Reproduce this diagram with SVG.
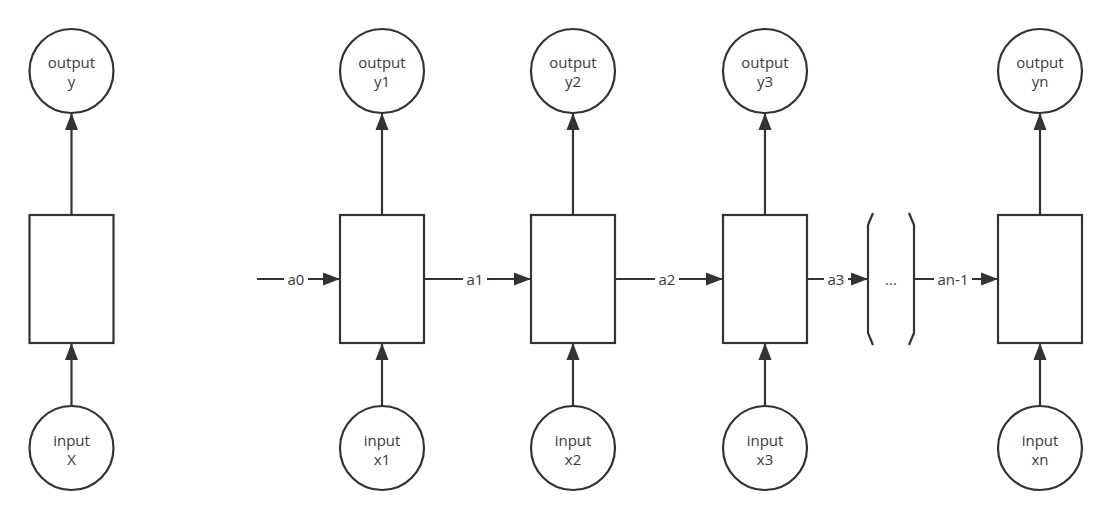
<svg xmlns="http://www.w3.org/2000/svg" width="1111" height="520" viewBox="0 0 1111 520">
<defs>
<marker id="ah" markerUnits="userSpaceOnUse" markerWidth="18" markerHeight="14" refX="17" refY="7" orient="auto">
<path d="M0,0.5 L17,7 L0,13.5 Z" fill="#333"/>
</marker>
<style>
.n{fill:#fff;stroke:#333;stroke-width:2.2}
.t{font-family:"Open Sans","Noto Sans",sans-serif;font-size:15px;fill:#3a3a3a;text-anchor:middle}
.c{stroke:#333;stroke-width:2.2;fill:none}
.a{marker-end:url(#ah)}
.lb{fill:#fff}
</style>
</defs>
<rect width="1111" height="520" fill="#fff"/>
<g id="connectors">
<line class="c a" x1="71.5" y1="406" x2="71.5" y2="343"/>
<line class="c a" x1="71.5" y1="215" x2="71.5" y2="113"/>
<line class="c a" x1="382" y1="406" x2="382" y2="343"/>
<line class="c a" x1="382" y1="215" x2="382" y2="113"/>
<line class="c a" x1="573" y1="406" x2="573" y2="343"/>
<line class="c a" x1="573" y1="215" x2="573" y2="113"/>
<line class="c a" x1="765" y1="406" x2="765" y2="343"/>
<line class="c a" x1="765" y1="215" x2="765" y2="113"/>
<line class="c a" x1="1040" y1="406" x2="1040" y2="343"/>
<line class="c a" x1="1040" y1="215" x2="1040" y2="113"/>
<line class="c a" x1="257" y1="279" x2="340" y2="279"/>
<line class="c a" x1="424" y1="279" x2="531" y2="279"/>
<line class="c a" x1="615" y1="279" x2="723" y2="279"/>
<line class="c a" x1="807" y1="279" x2="868" y2="279"/>
<line class="c a" x1="914" y1="279" x2="998" y2="279"/>
<rect class="lb" x="284" y="270" width="24" height="18"/>
<text class="t" x="296" y="284.5">a0</text>
<rect class="lb" x="463" y="270" width="24" height="18"/>
<text class="t" x="475" y="284.5">a1</text>
<rect class="lb" x="655" y="270" width="24" height="18"/>
<text class="t" x="667" y="284.5">a2</text>
<rect class="lb" x="824" y="270" width="24" height="18"/>
<text class="t" x="836" y="284.5">a3</text>
<rect class="lb" x="934" y="270" width="38" height="18"/>
<text class="t" x="953" y="284.5">an-1</text>
</g>
<g id="loop-brackets">
<path class="c" d="M873,213 L868,225 L868,333 L873,345"/>
<path class="c" d="M909,213 L914,225 L914,333 L909,345"/>
<text class="t" x="891" y="284.5">...</text>
</g>
<g id="out0"><circle class="n" cx="71.5" cy="71" r="42"/><text class="t" x="71.5" y="67.5">output</text><text class="t" x="71.5" y="86.5">y</text></g>
<g id="cell0"><rect class="n" x="29.5" y="215" width="84" height="128"/></g>
<g id="in0"><circle class="n" cx="71.5" cy="448" r="42"/><text class="t" x="71.5" y="445.5">input</text><text class="t" x="71.5" y="464.5">X</text></g>

<g id="out1"><circle class="n" cx="382" cy="71" r="42"/><text class="t" x="382" y="67.5">output</text><text class="t" x="382" y="86.5">y1</text></g>
<g id="cell1"><rect class="n" x="340" y="215" width="84" height="128"/></g>
<g id="in1"><circle class="n" cx="382" cy="448" r="42"/><text class="t" x="382" y="445.5">input</text><text class="t" x="382" y="464.5">x1</text></g>

<g id="out2"><circle class="n" cx="573" cy="71" r="42"/><text class="t" x="573" y="67.5">output</text><text class="t" x="573" y="86.5">y2</text></g>
<g id="cell2"><rect class="n" x="531" y="215" width="84" height="128"/></g>
<g id="in2"><circle class="n" cx="573" cy="448" r="42"/><text class="t" x="573" y="445.5">input</text><text class="t" x="573" y="464.5">x2</text></g>

<g id="out3"><circle class="n" cx="765" cy="71" r="42"/><text class="t" x="765" y="67.5">output</text><text class="t" x="765" y="86.5">y3</text></g>
<g id="cell3"><rect class="n" x="723" y="215" width="84" height="128"/></g>
<g id="in3"><circle class="n" cx="765" cy="448" r="42"/><text class="t" x="765" y="445.5">input</text><text class="t" x="765" y="464.5">x3</text></g>

<g id="outn"><circle class="n" cx="1040" cy="71" r="42"/><text class="t" x="1040" y="67.5">output</text><text class="t" x="1040" y="86.5">yn</text></g>
<g id="celln"><rect class="n" x="998" y="215" width="84" height="128"/></g>
<g id="inn"><circle class="n" cx="1040" cy="448" r="42"/><text class="t" x="1040" y="445.5">input</text><text class="t" x="1040" y="464.5">xn</text></g>
</svg>
